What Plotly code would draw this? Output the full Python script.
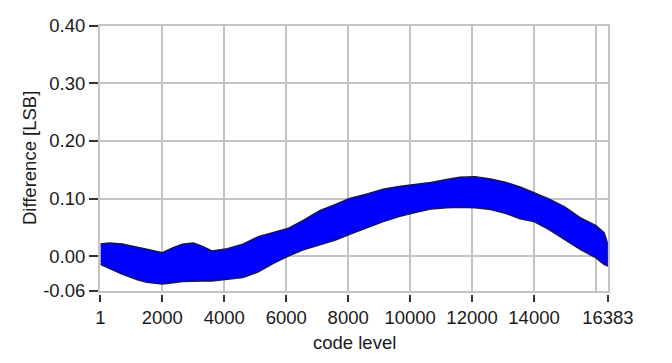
import plotly.graph_objects as go

# Difference vs. code level: upper and lower envelope of the measured trace
code_level = [1, 300, 700, 1200, 1500, 2000, 2350, 2650, 3000, 3300, 3600, 4100,
              4600, 5100, 5600, 6050, 6550, 7080, 7590, 8050, 8615, 9130, 9640,
              10155, 10670, 11180, 11600, 12100, 12600, 13100, 13550, 14000,
              14460, 14975, 15490, 16000, 16260, 16383]
diff_upper = [0.021, 0.023, 0.021, 0.016, 0.012, 0.006, 0.015, 0.021, 0.023, 0.017,
              0.009, 0.013, 0.021, 0.034, 0.041, 0.048, 0.062, 0.079, 0.090, 0.100,
              0.108, 0.116, 0.121, 0.124, 0.128, 0.133, 0.137, 0.138, 0.134, 0.128,
              0.120, 0.110, 0.100, 0.086, 0.067, 0.053, 0.041, 0.021]
diff_lower = [-0.014, -0.021, -0.031, -0.041, -0.045, -0.048, -0.046, -0.044, -0.043,
              -0.043, -0.043, -0.040, -0.037, -0.027, -0.012, 0.000, 0.011, 0.019,
              0.028, 0.038, 0.050, 0.060, 0.069, 0.076, 0.082, 0.084, 0.085, 0.084,
              0.081, 0.074, 0.065, 0.060, 0.047, 0.029, 0.012, -0.003, -0.014, -0.017]

x_tickvals = [1, 2000, 4000, 6000, 8000, 10000, 12000, 14000, 16383]
x_ticktext = ["1", "2000", "4000", "6000", "8000", "10000", "12000", "14000", "16383"]
y_tickvals = [-0.06, 0.0, 0.1, 0.2, 0.3, 0.4]
y_ticktext = ["-0.06", "0.00", "0.10", "0.20", "0.30", "0.40"]

W, H = 672, 363
left, right, top, bottom = 100, 632, 15.5, 297
FONT = dict(family="Liberation Sans, Arial, sans-serif", size=18.5, color="#1a1a1a")
GRID = "#c4c4c4"
TICK = "#333333"

# closed polygon: upper edge left-to-right, lower edge back right-to-left
poly_x = code_level + code_level[::-1]
poly_y = diff_upper + diff_lower[::-1]

fig = go.Figure()
fig.add_trace(go.Scatter(
    x=poly_x, y=poly_y, mode="lines", fill="toself",
    fillcolor="#0000ff", line=dict(color="#0000ff", width=0),
    hoverinfo="skip", showlegend=False, xaxis="x", yaxis="y"))
fig.add_trace(go.Scatter(
    x=poly_x, y=poly_y, mode="lines",
    line=dict(color="#15155e", width=1.5),
    hoverinfo="skip", showlegend=False, xaxis="x2", yaxis="y2"))

xr = [1, 16383]
yr = [-0.06, 0.40]
fig.update_layout(
    width=W, height=H,
    margin=dict(l=0, r=0, t=0, b=0),
    paper_bgcolor="white", plot_bgcolor="white",
    font=FONT,
    # grid + light frame
    xaxis=dict(domain=[left / W, right / W], range=xr, tick0=0, dtick=2000,
               showgrid=True, gridcolor=GRID, gridwidth=1.5, zeroline=False,
               showticklabels=False, ticks="", showline=True, mirror=True,
               linecolor=GRID, linewidth=1.5, anchor="y"),
    yaxis=dict(domain=[(H - bottom) / H, (H - top) / H], range=yr, tick0=0, dtick=0.1,
               showgrid=True, gridcolor=GRID, gridwidth=1.5, zeroline=False,
               showticklabels=False, ticks="", showline=True, mirror=True,
               linecolor=GRID, linewidth=1.5, anchor="x"),
    # tick marks and labels, set slightly off the frame
    xaxis2=dict(overlaying="x", range=xr, anchor="free", position=(H - 300) / H,
                tickmode="array", tickvals=x_tickvals, ticktext=x_ticktext,
                ticks="outside", ticklen=7, tickwidth=1.5, tickcolor=TICK,
                showgrid=False, zeroline=False, showline=False, tickfont=FONT),
    yaxis2=dict(overlaying="y", range=yr, anchor="free", position=97 / W,
                tickmode="array", tickvals=y_tickvals, ticktext=y_ticktext,
                ticks="outside", ticklen=8.5, tickwidth=1.5, tickcolor=TICK,
                showgrid=False, zeroline=False, showline=False, tickfont=FONT,
                side="left"),
    annotations=[
        dict(text="code level", x=(left + right) / 2 / W, y=(H - 365) / H,
             xref="paper", yref="paper", xanchor="center", yanchor="bottom",
             showarrow=False, font=FONT),
        dict(text="Difference [LSB]", x=25 / W, y=(H - (top + bottom) / 2) / H,
             xref="paper", yref="paper", xanchor="center", yanchor="middle",
             textangle=-90, showarrow=False, font=FONT),
    ],
)

fig.write_html("out.html", post_script="document.body.style.margin='0';")
